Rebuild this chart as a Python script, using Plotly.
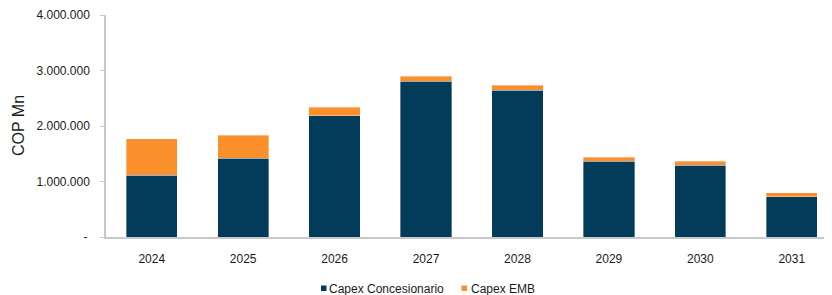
import plotly.graph_objects as go

years = ["2024", "2025", "2026", "2027", "2028", "2029", "2030", "2031"]
capex_concesionario = [1117000, 1418000, 2186000, 2805000, 2643000, 1369000, 1297000, 721000]
capex_emb = [649000, 414000, 151000, 95000, 90000, 72000, 72000, 72000]
series_names = ["Capex Concesionario", "Capex EMB"]
series_colors = ["#033B5B", "#FA8F2C"]

y_tickvals = [0, 1000000, 2000000, 3000000, 4000000]
y_ticktext = ["-\u2009", "1.000.000", "2.000.000", "3.000.000", "4.000.000"]

FONT = "Liberation Sans, Arial, sans-serif"
TXT = "#1a1a1a"

# page body has an 8px margin; compensate so the plot lands where the reference has it
L, R, T, B = 98, 8, 7, 66
PW = 832 - L - R
PH = 295 - T - B
OX, OY = 8 + L, 8 + T + PH   # screen coords of plot origin


def px(sx):
    return (sx - OX) / PW


def py(sy):
    return (OY - sy) / PH


fig = go.Figure()
for vals, name, col in zip([capex_concesionario, capex_emb], series_names, series_colors):
    fig.add_trace(go.Bar(
        x=years, y=vals, name=name, showlegend=False,
        marker=dict(color=col, line=dict(color="rgba(255,255,255,0.6)", width=0.6)),
    ))

# custom legend (small squares, tight spacing like the reference)
legend_items = [(321, 328), (461.5, 469.5)]
shapes = []
annotations = []
for (sq_x, tx_x), name, col in zip(legend_items, series_names, series_colors):
    shapes.append(dict(
        type="rect", xref="paper", yref="paper",
        x0=px(sq_x), x1=px(sq_x + 5.5), y0=py(291), y1=py(285.5),
        fillcolor=col, line=dict(width=0),
    ))
    annotations.append(dict(
        text=name, x=px(tx_x), y=py(288.5), xref="paper", yref="paper",
        xanchor="left", yanchor="middle", showarrow=False, borderpad=0,
        font=dict(size=12, color=TXT, family=FONT),
    ))

annotations.append(dict(
    text="COP Mn", textangle=-90, x=px(18), y=py(126), xref="paper", yref="paper",
    xanchor="center", yanchor="middle", showarrow=False,
    font=dict(size=16, color=TXT, family=FONT),
))

fig.update_layout(
    barmode="stack",
    bargap=0.44,
    width=832, height=295,
    margin=dict(l=L, r=R, t=T, b=B, autoexpand=False),
    paper_bgcolor="white", plot_bgcolor="white",
    font=dict(family=FONT, size=12, color=TXT),
    showlegend=False,
    xaxis=dict(
        type="category", range=[-0.5, 7.44],
        showline=True, linecolor="#C8C8C8", linewidth=1.5,
        ticks="", showgrid=False, zeroline=False,
        ticklabelstandoff=10,
        tickfont=dict(size=12, color=TXT),
    ),
    yaxis=dict(
        range=[0, 4000000], tickvals=y_tickvals, ticktext=y_ticktext,
        showline=True, linecolor="#C8C8C8", linewidth=1.5,
        ticks="outside", ticklen=4, tickcolor="#C8C8C8",
        showgrid=False, zeroline=False,
        ticklabelstandoff=8,
        tickfont=dict(size=12, color=TXT),
    ),
    shapes=shapes,
    annotations=annotations,
)

fig.write_html("out.html")
